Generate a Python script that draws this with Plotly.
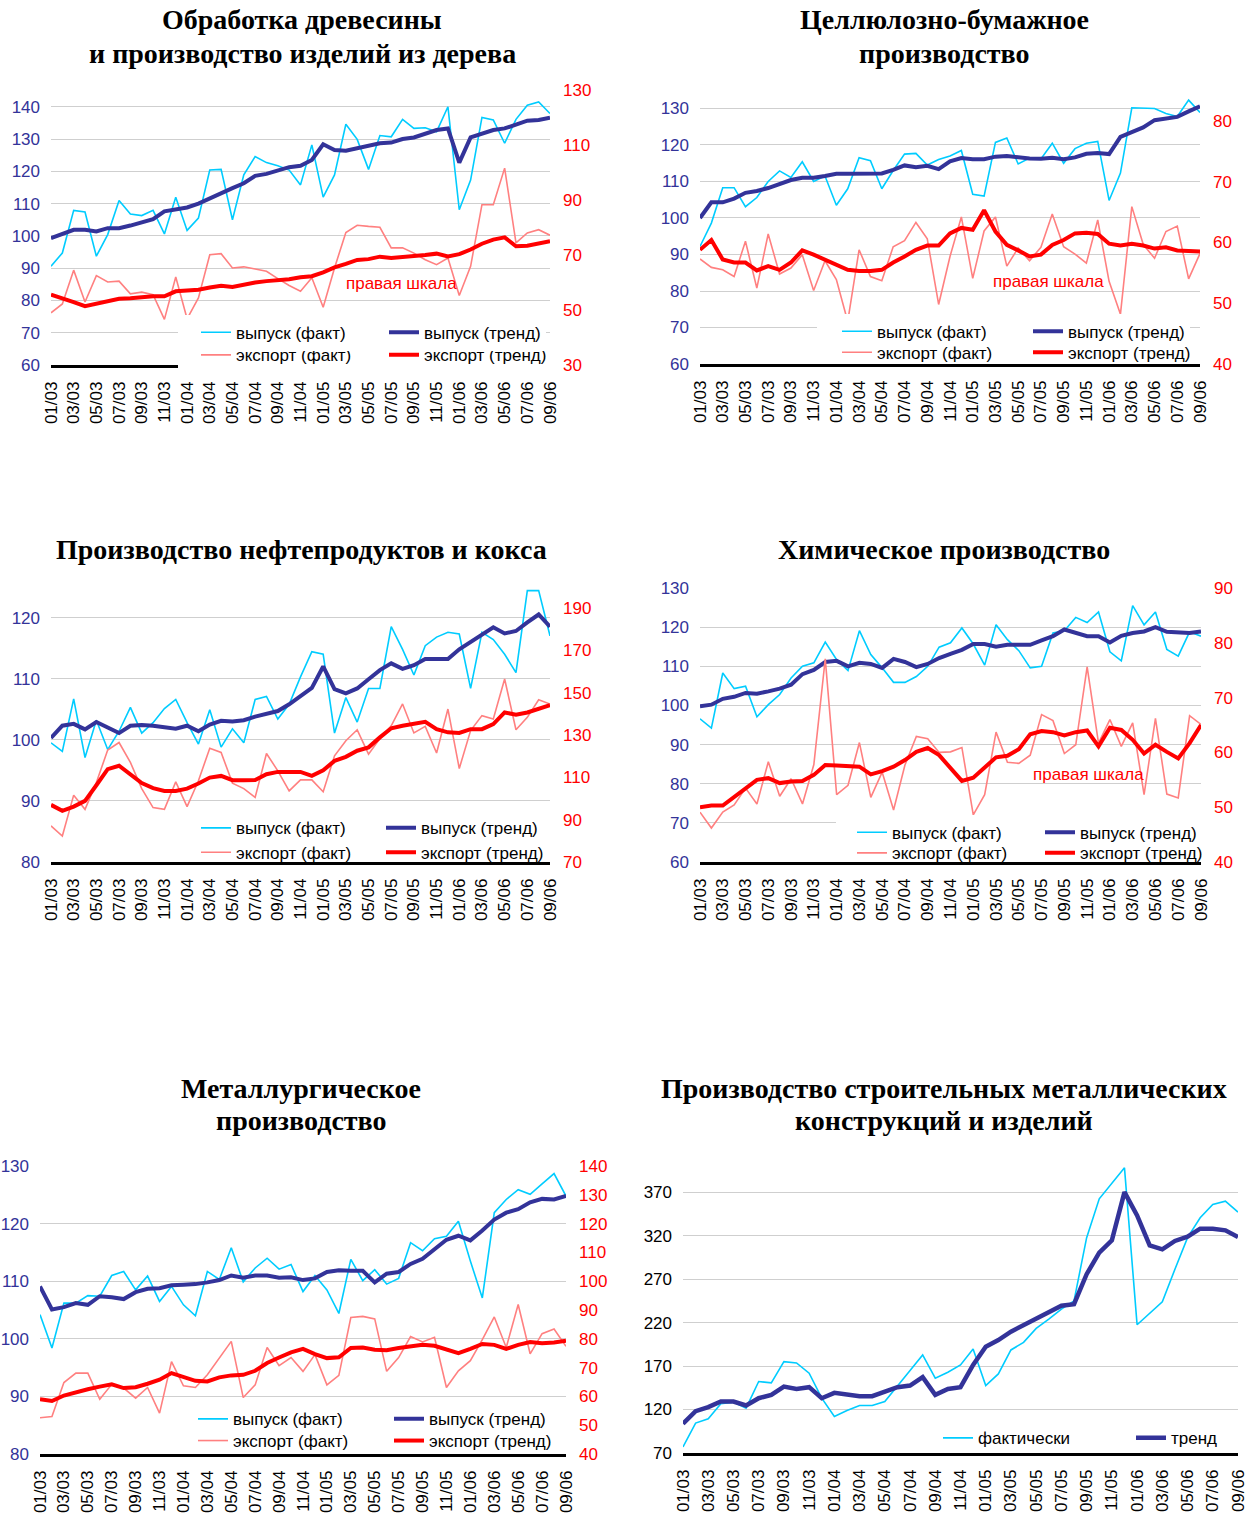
import plotly.graph_objects as go

# ---------------- data ----------------
MONTHS = ["01/03", "02/03", "03/03", "04/03", "05/03", "06/03", "07/03", "08/03", "09/03", "10/03", "11/03", "12/03",
          "01/04", "02/04", "03/04", "04/04", "05/04", "06/04", "07/04", "08/04", "09/04", "10/04", "11/04", "12/04",
          "01/05", "02/05", "03/05", "04/05", "05/05", "06/05", "07/05", "08/05", "09/05", "10/05", "11/05", "12/05",
          "01/06", "02/06", "03/06", "04/06", "05/06", "06/06", "07/06", "08/06", "09/06"]
TICK_LABELS = ["01/03", "03/03", "05/03", "07/03", "09/03", "11/03", "01/04", "03/04", "05/04", "07/04", "09/04",
               "11/04", "01/05", "03/05", "05/05", "07/05", "09/05", "11/05", "01/06", "03/06", "05/06", "07/06", "09/06"]

# 1. Обработка древесины
p1_out_fact = [90.6, 94.7, 107.9, 107.4, 93.7, 100.4, 111.0, 106.8, 106.3, 107.9, 100.6, 112.0, 101.7, 105.5, 120.4,
               120.6, 105.0, 118.9, 124.6, 122.7, 121.7, 120.4, 115.8, 128.2, 112.0, 118.9, 134.6, 129.9, 120.6, 131.1,
               130.7, 136.1, 133.3, 133.5, 132.3, 140.0, 108.1, 117.3, 136.7, 135.9, 128.7, 136.1, 140.5, 141.5, 137.9]
p1_out_trend = [99.3, 100.7, 101.9, 101.9, 101.4, 102.4, 102.4, 103.2, 104.2, 105.2, 107.6, 108.1, 108.8, 110.0, 111.7,
                113.2, 114.8, 116.3, 118.6, 119.2, 120.2, 121.3, 121.7, 123.5, 128.4, 126.6, 126.4, 127.1, 128.0, 128.7,
                128.9, 130.0, 130.5, 131.5, 132.8, 133.3, 122.7, 130.5, 131.8, 132.8, 133.3, 134.6, 135.7, 135.9, 136.6]
p1_exp_fact = [49.0, 52.2, 64.5, 52.9, 62.5, 60.2, 60.5, 55.9, 56.5, 55.6, 46.6, 62.0, 46.8, 54.4, 70.1, 70.5, 65.3,
               65.7, 64.9, 64.1, 61.4, 58.9, 56.8, 61.7, 51.0, 65.3, 78.2, 80.8, 80.4, 80.1, 72.6, 72.6, 70.7, 68.3,
               66.5, 68.9, 55.3, 65.9, 88.3, 88.3, 101.6, 74.4, 78.0, 79.2, 77.2]
p1_exp_trend = [55.6, 54.4, 52.9, 51.4, 52.4, 53.2, 54.1, 54.3, 54.8, 55.0, 55.0, 56.8, 57.1, 57.4, 58.2, 58.8, 58.4,
                59.3, 60.0, 60.5, 60.7, 61.2, 61.9, 62.3, 63.7, 65.5, 66.8, 68.2, 68.5, 69.4, 68.9, 69.2, 69.5, 70.0,
                70.5, 69.5, 70.3, 72.0, 74.1, 75.6, 76.4, 73.2, 73.4, 74.1, 75.0]

# 2. Целлюлозно-бумажное производство
p2_out_fact = [92.2, 98.6, 108.3, 108.3, 103.1, 105.6, 110.0, 112.9, 111.1, 115.4, 110.0, 111.5, 103.5, 108.0, 116.5,
               115.7, 108.0, 113.0, 117.5, 117.7, 114.5, 116.0, 117.0, 118.5, 106.5, 106.0, 120.7, 121.9, 114.8, 116.4,
               116.2, 120.5, 115.0, 119.0, 120.5, 121.0, 104.8, 112.3, 130.2, 130.0, 130.0, 128.6, 127.8, 132.3, 128.9]
p2_out_trend = [100.0, 104.3, 104.3, 105.3, 106.9, 107.4, 108.2, 109.2, 110.4, 111.0, 111.0, 111.5, 112.1, 112.1, 112.2,
                112.3, 112.2, 113.2, 114.4, 113.9, 114.3, 113.4, 115.5, 116.4, 116.1, 116.1, 116.8, 117.0, 116.6, 116.3,
                116.2, 116.5, 116.1, 116.6, 117.6, 117.8, 117.5, 122.2, 123.5, 124.8, 126.8, 127.2, 127.7, 129.2, 130.6]
p2_exp_fact = [57.3, 55.9, 55.5, 54.4, 60.2, 52.5, 61.4, 54.8, 55.8, 58.0, 52.1, 57.0, 53.9, 47.0, 58.8, 54.4, 53.7,
               59.3, 60.3, 63.3, 60.6, 49.8, 57.7, 64.2, 54.1, 61.9, 64.2, 56.1, 59.1, 57.0, 59.2, 64.7, 59.3, 58.1,
               56.6, 63.7, 53.6, 48.2, 65.9, 59.7, 57.4, 61.8, 62.7, 54.0, 58.2]
p2_exp_trend = [58.8, 60.4, 57.2, 56.7, 56.7, 55.4, 56.1, 55.5, 56.7, 58.7, 58.0, 57.2, 56.3, 55.5, 55.3, 55.3, 55.5,
                56.7, 57.7, 58.8, 59.5, 59.5, 61.5, 62.4, 62.1, 65.3, 61.8, 59.6, 58.7, 57.7, 58.0, 59.6, 60.4, 61.5,
                61.6, 61.4, 59.8, 59.5, 59.8, 59.5, 59.0, 59.2, 58.7, 58.6, 58.5]

# 3. Производство нефтепродуктов и кокса
p3_out_fact = [99.5, 98.1, 106.7, 97.1, 103.2, 98.4, 101.4, 105.3, 101.1, 102.8, 105.1, 106.6, 102.8, 99.3, 104.9,
               98.8, 101.8, 99.5, 106.6, 107.1, 103.4, 105.8, 110.3, 114.4, 114.0, 101.1, 106.9, 102.9, 108.4, 108.4,
               118.5, 114.8, 110.6, 115.4, 116.8, 117.6, 117.3, 108.4, 117.6, 116.4, 114.0, 111.0, 124.4, 124.4, 117.0]
p3_out_trend = [100.3, 102.3, 102.6, 101.7, 102.9, 102.0, 101.1, 102.3, 102.4, 102.3, 102.1, 101.8, 102.3, 101.4, 102.5,
                103.1, 103.0, 103.2, 103.8, 104.2, 104.7, 105.8, 107.1, 108.5, 112.0, 108.3, 107.6, 108.4, 109.9, 111.4,
                112.5, 111.6, 112.2, 113.2, 113.2, 113.2, 114.8, 116.0, 117.3, 118.4, 117.4, 117.8, 119.2, 120.5, 118.5]
p3_exp_fact = [87.1, 82.3, 101.6, 94.9, 107.6, 122.9, 126.5, 117.1, 104.7, 95.7, 94.9, 107.9, 96.2, 108.4, 123.8,
               121.8, 107.3, 104.7, 100.5, 121.3, 113.1, 103.6, 108.8, 108.8, 103.2, 120.2, 127.3, 132.5, 121.0, 128.4,
               134.4, 144.7, 131.0, 134.1, 121.5, 142.3, 114.2, 132.1, 139.2, 137.6, 156.5, 132.5, 138.4, 146.7, 144.7]
p3_exp_trend = [97.0, 94.2, 96.2, 98.9, 106.3, 113.9, 115.5, 111.1, 107.3, 104.9, 103.6, 103.6, 104.7, 107.1, 109.9,
                110.7, 108.7, 108.7, 108.8, 111.5, 112.6, 112.6, 112.6, 110.7, 113.4, 117.8, 119.7, 122.6, 124.2, 128.9,
                133.2, 134.4, 135.2, 136.3, 132.8, 131.3, 131.0, 132.8, 132.8, 135.2, 140.7, 139.6, 140.7, 142.3, 144.2]

# 4. Химическое производство
p4_out_fact = [96.6, 94.2, 108.3, 104.3, 104.9, 97.1, 100.2, 102.8, 107.0, 110.0, 110.9, 116.2, 111.7, 108.9, 119.1,
               113.0, 109.6, 105.9, 105.9, 107.4, 110.0, 114.9, 116.0, 119.8, 115.7, 110.3, 120.6, 116.8, 114.0, 109.6,
               110.0, 118.5, 119.1, 122.5, 121.2, 123.9, 113.7, 111.4, 125.5, 120.6, 123.9, 114.3, 112.6, 118.8, 117.7]
p4_out_trend = [99.8, 100.2, 101.7, 102.2, 103.2, 103.0, 103.6, 104.3, 105.3, 108.0, 109.1, 111.1, 111.4, 110.0, 110.9,
                110.6, 109.6, 111.9, 111.1, 109.8, 110.6, 112.1, 113.2, 114.2, 115.7, 115.7, 115.0, 115.5, 115.5, 115.5,
                116.6, 117.7, 119.4, 118.5, 117.7, 117.7, 116.1, 117.8, 118.5, 118.9, 120.0, 118.8, 118.7, 118.5, 118.9]
p4_exp_fact = [49.1, 46.2, 49.1, 50.4, 53.5, 50.6, 58.3, 52.0, 55.2, 50.6, 57.8, 77.1, 52.3, 54.0, 61.8, 51.8, 56.4,
               49.5, 57.7, 62.9, 62.5, 60.0, 60.1, 60.9, 48.6, 52.3, 63.7, 58.2, 58.0, 59.5, 66.9, 65.8, 59.8, 61.4,
               75.6, 61.7, 66.0, 61.1, 65.4, 52.3, 66.2, 52.4, 51.7, 66.7, 65.1]
p4_exp_trend = [50.0, 50.3, 50.3, 51.8, 53.5, 55.0, 55.3, 54.4, 54.7, 54.8, 55.9, 57.7, 57.6, 57.5, 57.4, 56.0, 56.6,
                57.4, 58.6, 60.1, 60.8, 59.5, 57.1, 54.8, 55.4, 57.2, 59.1, 59.4, 60.6, 63.3, 63.9, 63.7, 63.1, 63.7,
                64.0, 61.1, 64.5, 64.1, 62.3, 59.8, 61.4, 60.1, 58.9, 61.7, 65.0]

# 5. Металлургическое производство
p5_out_fact = [104.2, 98.4, 106.2, 106.2, 107.5, 107.4, 111.0, 111.7, 108.5, 110.9, 106.5, 109.1, 105.9, 104.0, 111.7,
               110.3, 115.8, 109.9, 112.3, 114.0, 112.1, 112.9, 108.2, 111.0, 108.5, 104.4, 113.8, 110.1, 112.0, 109.5,
               110.5, 116.7, 115.3, 117.4, 117.8, 120.4, 113.5, 107.1, 121.9, 124.2, 125.9, 125.1, 126.9, 128.7, 124.8]
p5_out_trend = [109.1, 105.1, 105.5, 106.2, 105.9, 107.4, 107.2, 106.9, 108.1, 108.7, 108.8, 109.3, 109.4, 109.5, 109.8,
                110.2, 111.0, 110.6, 111.0, 111.0, 110.6, 110.7, 110.2, 110.5, 111.6, 111.9, 111.8, 111.8, 109.8, 111.3,
                111.6, 113.0, 113.9, 115.6, 117.2, 117.9, 117.1, 118.8, 120.7, 121.9, 122.5, 123.7, 124.3, 124.2, 124.8]
p5_exp_fact = [52.6, 53.0, 64.8, 68.1, 68.1, 59.0, 64.2, 62.9, 59.4, 63.1, 54.2, 72.1, 63.7, 63.1, 67.5, 73.3, 79.1,
               59.6, 64.0, 77.0, 70.7, 73.5, 68.7, 74.5, 64.0, 67.3, 87.4, 87.8, 86.9, 68.7, 73.5, 80.8, 78.9, 80.5,
               63.1, 68.9, 72.4, 79.7, 87.6, 77.0, 91.9, 74.8, 81.8, 83.4, 77.4]
p5_exp_trend = [59.0, 58.4, 60.3, 61.5, 62.5, 63.4, 64.2, 62.9, 63.2, 64.4, 65.8, 68.1, 66.9, 65.4, 65.2, 66.6, 67.3,
                67.5, 68.9, 71.6, 73.5, 75.3, 76.5, 74.7, 73.3, 73.6, 76.8, 77.0, 76.2, 76.0, 76.8, 77.4, 77.9, 77.6,
                76.2, 75.0, 76.5, 78.2, 77.9, 76.5, 77.9, 78.9, 78.5, 78.7, 79.3]

# 6. Производство строительных металлических конструкций и изделий
p6_fact = [76.9, 104.4, 109.4, 126.6, 128.5, 121.6, 152.2, 150.6, 175.1, 173.6, 161.7, 133.0, 112.0, 118.9, 124.6,
           124.6, 129.2, 147.6, 164.8, 182.7, 156.0, 162.9, 171.3, 189.6, 147.6, 160.9, 188.5, 197.2, 213.3, 224.0,
           235.5, 245.0, 317.6, 362.3, 380.7, 397.9, 217.5, 230.9, 243.9, 281.3, 317.6, 340.5, 355.8, 359.6, 347.0]
p6_trend = [103.6, 118.1, 122.7, 129.2, 129.2, 124.6, 133.0, 136.9, 146.4, 143.7, 145.7, 133.0, 139.2, 136.9, 135.3,
            135.3, 140.7, 145.7, 147.6, 157.2, 136.9, 143.7, 145.7, 171.3, 192.3, 199.9, 209.5, 217.1, 224.8, 231.6,
            239.3, 241.2, 275.6, 300.4, 314.6, 370.0, 343.2, 308.8, 304.2, 313.8, 318.8, 327.9, 327.9, 326.0, 318.4]

TITLES = ["Обработка древесины<br>и производство изделий из дерева",
          "Целлюлозно-бумажное<br>производство",
          "Производство нефтепродуктов и кокса",
          "Химическое производство",
          "Металлургическое<br>производство",
          "Производство строительных металлических<br>конструкций и изделий"]
NAMES = ["выпуск (факт)", "выпуск (тренд)", "экспорт (факт)", "экспорт (тренд)"]
NAMES6 = ["фактически", "тренд"]
RIGHT_NOTE = "правая шкала"

# ---------------- styling / geometry ----------------
W, H = 1251, 1517
C_OF, C_OT, C_EF, C_ET = "#00CCFF", "#333399", "#FF8080", "#FF0000"
SANS = "Arial, Liberation Sans, sans-serif"
SERIF = "Times New Roman, Liberation Serif, serif"
GRID = "#CFCFCF"
WHITE, CLEAR = "white", "rgba(0,0,0,0)"
FS = 17


def fx(p):
    return p / W


def fy(p):
    return 1 - p / H


# rows: (row centre y, box left x, background) for row 1 (выпуск) and row 2 (экспорт)
panels = [
    dict(x0=51, x1=550, top=90, bot=365, left=[60, 145.2], ldt=10, right=[30, 130.01], rdt=20,
         data=[p1_out_fact, p1_out_trend, p1_exp_fact, p1_exp_trend], tx=302, ty=[20, 53],
         tA=236, tB=424, rows=[(331.7, 178, WHITE), (354.3, 178, WHITE)], note=(401, 284)),
    dict(x0=700, x1=1200, top=90.6, bot=364, left=[60, 134.9], ldt=10, right=[40, 85], rdt=10,
         data=[p2_out_fact, p2_out_trend, p2_exp_fact, p2_exp_trend], tx=944, ty=[20, 53],
         tA=877, tB=1068, rows=[(330.7, 817, WHITE), (351.7, 837, CLEAR)], note=(1048, 281)),
    dict(x0=51, x1=550, top=587, bot=862, left=[80, 125], ldt=10, right=[70, 200], rdt=20,
         data=[p3_out_fact, p3_out_trend, p3_exp_fact, p3_exp_trend], tx=301, ty=[550],
         tA=236, tB=421, rows=[(827.3, 196, CLEAR), (851.7, 196, CLEAR)], note=None),
    dict(x0=700, x1=1201, top=588, bot=862, left=[60, 130.01], ldt=10, right=[40, 90.01], rdt=10,
         data=[p4_out_fact, p4_out_trend, p4_exp_fact, p4_exp_trend], tx=944, ty=[550],
         tA=892, tB=1080, rows=[(831.7, 836, WHITE), (852.3, 852, CLEAR)], note=(1088, 774)),
    dict(x0=40, x1=566, top=1166, bot=1454, left=[80, 130.01], ldt=10, right=[40, 140.01], rdt=10,
         data=[p5_out_fact, p5_out_trend, p5_exp_fact, p5_exp_trend], tx=301, ty=[1088, 1120],
         tA=233, tB=429, rows=[(1418.3, 193, CLEAR), (1440, 193, CLEAR)], note=None),
    dict(x0=683, x1=1238, top=1166, bot=1453, left=[70, 400], ldt=50, right=None, rdt=None,
         data=[p6_fact, p6_trend], tx=944, ty=[1088, 1120],
         tA=978, tB=1171, rows=[(1437.3, 938, CLEAR)], note=None),
]

fig = go.Figure()
layout = dict(
    width=W, height=H, autosize=False, template="none",
    margin=dict(l=0, r=0, t=0, b=0), paper_bgcolor="white", plot_bgcolor="white",
    font=dict(family=SANS, size=FS, color="black"),
    annotations=[], showlegend=True,
)

leg_idx = 0
for k, p in enumerate(panels, start=1):
    xa, ya = f"x{k}", f"y{k}"
    nrows = len(p["rows"])
    # drawing order of the row legends: a transparent lower row goes on top,
    # a white lower row goes underneath the upper row
    if nrows == 2 and p["rows"][1][2] == WHITE:
        order = [1, 0]
    else:
        order = list(range(nrows))
    ids = {}
    for r in order:
        leg_idx += 1
        ids[r] = "legend" if leg_idx == 1 else f"legend{leg_idx}"
    inds = [max(p["tA"] - 40 - row[1], 0) for row in p["rows"]]
    if p["right"] is not None:
        yr = f"y{k + 6}"
        wA2 = p["tB"] - p["tA"] - 45 - inds[1]
        wA1 = p["tB"] - p["tA"] - 45 - inds[0]
        row_specs = {
            0: [(p["data"][0], NAMES[0], C_OF, 1.6, ya, ids[0], wA1),
                (p["data"][1], NAMES[1], C_OT, 4, ya, ids[0], None)],
            1: [(p["data"][2], NAMES[2], C_EF, 1.6, yr, ids[1], wA2),
                (p["data"][3], NAMES[3], C_ET, 4, yr, ids[1], None)],
        }
        specs = row_specs[order[0]] + row_specs[order[1]]
    else:
        wA1 = p["tB"] - p["tA"] - 45 - inds[0]
        specs = [(p["data"][0], NAMES6[0], C_OF, 1.6, ya, ids[0], wA1),
                 (p["data"][1], NAMES6[1], C_OT, 4.5, ya, ids[0], None)]
    for vals, name, col, w, yax, leg, lw in specs:
        tr = go.Scatter(x=MONTHS, y=vals, name=name, mode="lines", xaxis=xa, yaxis=yax,
                        line=dict(color=col, width=w), legend=leg, hoverinfo="skip")
        if lw is not None:
            tr.legendwidth = lw
        fig.add_trace(tr)

    lcol = C_OT if p["right"] is not None else "black"
    layout[f"xaxis{k}"] = dict(
        domain=[fx(p["x0"]), fx(p["x1"])], anchor=ya, type="category", range=[0, 44],
        tickmode="array", tickvals=TICK_LABELS, ticktext=TICK_LABELS, tickangle=-90,
        tickfont=dict(family=SANS, size=FS, color="black"), ticks="", ticklabelstandoff=7,
        showgrid=False, zeroline=False, showline=True, linecolor="black", linewidth=2.5,
        automargin=False, fixedrange=True)
    layout[f"yaxis{k}"] = dict(
        domain=[fy(p["bot"]), fy(p["top"])], anchor=xa, range=p["left"], tick0=p["left"][0], dtick=p["ldt"],
        tickfont=dict(family=SANS, size=FS, color=lcol), ticks="", ticklabelstandoff=10,
        showgrid=True, gridcolor=GRID, gridwidth=1, zeroline=False, showline=False,
        automargin=False, fixedrange=True)
    if p["right"] is not None:
        layout[f"yaxis{k + 6}"] = dict(
            overlaying=ya, anchor=xa, side="right", range=p["right"], tick0=p["right"][0], dtick=p["rdt"],
            tickfont=dict(family=SANS, size=FS, color=C_ET), ticks="", ticklabelstandoff=12,
            showgrid=False, zeroline=False, showline=False, automargin=False, fixedrange=True)

    # legends: one horizontal legend per row
    for r, (ry, bx, bg) in enumerate(p["rows"]):
        layout[ids[r]] = dict(
            x=fx(bx), y=fy(ry - 17), xanchor="left", yanchor="top", orientation="h",
            indentation=inds[r], bgcolor=bg, borderwidth=0,
            font=dict(family=SANS, size=FS, color="black"),
            itemclick=False, itemdoubleclick=False)

    # title
    lines = TITLES[k - 1].split("<br>")
    for line, yy in zip(lines, p["ty"]):
        layout["annotations"].append(dict(
            text=line, x=fx(p["tx"]), y=fy(yy), xref="paper", yref="paper", xanchor="center",
            yanchor="middle", showarrow=False,
            font=dict(family=SERIF, size=28, color="black", weight="bold")))
    if p["note"]:
        layout["annotations"].append(dict(
            text=RIGHT_NOTE, x=fx(p["note"][0]), y=fy(p["note"][1]), xref="paper", yref="paper",
            xanchor="center", yanchor="middle", showarrow=False,
            font=dict(family=SANS, size=FS, color=C_ET)))

fig.update_layout(**layout)
fig.write_html("out.html", config={"displayModeBar": False},
               post_script="document.body.style.margin='0px';document.body.style.overflow='hidden';")
